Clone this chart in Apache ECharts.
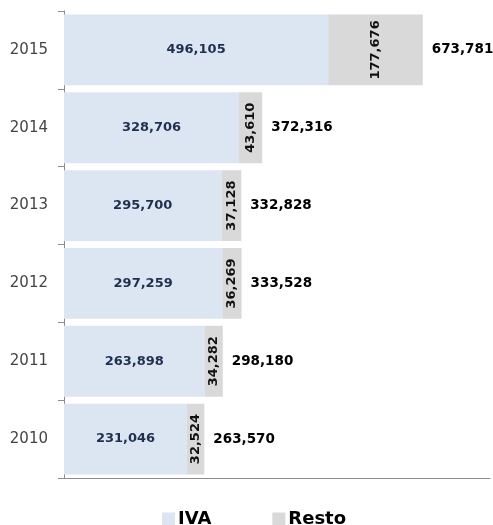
<!DOCTYPE html>
<html>
<head>
<meta charset="utf-8">
<script src="https://cdn.jsdelivr.net/npm/echarts@6/dist/echarts.min.js"></script>
<style>
html,body{margin:0;padding:0;background:#fff;}
#c{width:493px;height:525px;}
</style>
</head>
<body>
<div id="c"></div>
<script>
var years = ['2010','2011','2012','2013','2014','2015'];
var iva = [231046, 263898, 297259, 295700, 328706, 496105];
var resto = [32524, 34282, 36269, 37128, 43610, 177676];
var totals = [263570, 298180, 333528, 332828, 372316, 673781];

function fmt(v){ return v.toString().replace(/\B(?=(\d{3})+(?!\d))/g, ','); }

var chart = echarts.init(document.getElementById('c'));
chart.setOption({
  animation: false,
  backgroundColor: '#ffffff',
  grid: { left: 64, right: 3, top: 11, bottom: 47, containLabel: false },
  legend: {
    data: ['IVA', 'Resto'],
    top: 510,
    left: 162,
    padding: 0,
    itemGap: 61,
    itemWidth: 13,
    itemHeight: 13,
    icon: 'rect',
    textStyle: { fontFamily: 'DejaVu Sans', fontWeight: 'bold', fontSize: 18, color: '#000', padding: [0,0,0,-2] }
  },
  xAxis: {
    type: 'value',
    min: 0,
    max: 800000,
    axisLine: { show: true, lineStyle: { color: '#8c8c8c' } },
    axisTick: { show: false },
    axisLabel: { show: false },
    splitLine: { show: false }
  },
  yAxis: {
    type: 'category',
    data: years,
    axisLine: { show: true, lineStyle: { color: '#8c8c8c' } },
    axisTick: { show: true, length: 6, lineStyle: { color: '#8c8c8c' } },
    axisLabel: { fontFamily: 'DejaVu Sans', fontSize: 15, color: '#444444', margin: 16 }
  },
  series: [
    {
      name: 'IVA', type: 'bar', stack: 't', data: iva,
      barCategoryGap: '9%',
      itemStyle: { color: '#dce6f2' },
      label: { show: true, position: 'inside', formatter: function(p){ return fmt(p.value); },
        fontFamily: 'DejaVu Sans', fontWeight: 'bold', fontSize: 13, color: '#1f2f4f' }
    },
    {
      name: 'Resto', type: 'bar', stack: 't', data: resto,
      itemStyle: { color: '#d9d9d9' },
      label: { show: true, position: 'inside', rotate: 90, formatter: function(p){ return fmt(p.value); },
        fontFamily: 'DejaVu Sans', fontWeight: 'bold', fontSize: 13, color: '#111' }
    },
    {
      name: 'Total', type: 'bar', data: totals,
      barGap: '-100%',
      z: 0,
      itemStyle: { color: 'rgba(0,0,0,0)' },
      label: { show: true, position: 'right', distance: 9, formatter: function(p){ return fmt(p.value); },
        fontFamily: 'DejaVu Sans', fontWeight: 'bold', fontSize: 13.5, color: '#000' }
    }
  ]
});
</script>
</body>
</html>
